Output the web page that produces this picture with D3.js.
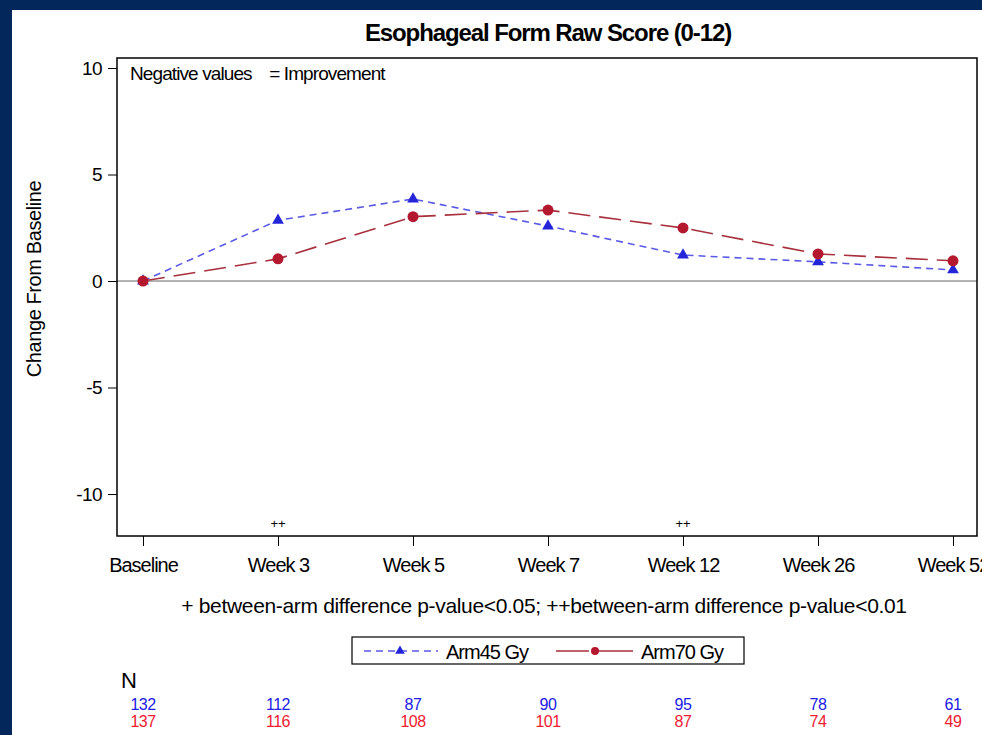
<!DOCTYPE html>
<html>
<head>
<meta charset="utf-8">
<script src="https://cdn.jsdelivr.net/npm/d3@7"></script>
<style>
  body { margin: 0; background: #03275b; }
  svg { display: block; }
  text { font-family: "Liberation Sans", Arial, sans-serif; }
</style>
</head>
<body>
<svg width="982" height="735"></svg>
<script>
const visits = ['Baseline', 'Week 3', 'Week 5', 'Week 7', 'Week 12', 'Week 26', 'Week 52'];
const arm45 = [0, 2.85, 3.85, 2.58, 1.22, 0.9, 0.52];
const arm70 = [0, 1.04, 3.02, 3.33, 2.49, 1.27, 0.95];
const n45 = [132, 112, 87, 90, 95, 78, 61];
const n70 = [137, 116, 108, 101, 87, 74, 49];
const sigMarks = ['', '++', '', '', '++', '', ''];
const yTicks = [-10, -5, 0, 5, 10];
const seriesNames = ['Arm45 Gy', 'Arm70 Gy'];

const svg = d3.select('svg');
const width = 982;
const height = 735;

// white panel on navy background
svg.append('rect')
    .attr('x', 12).attr('y', 10)
    .attr('width', width - 12).attr('height', height - 10)
    .attr('fill', '#fff');

const plotL = 117, plotR = 977, plotT = 58, plotB = 536;

const x = d3.scalePoint().domain(visits).range([143, 953]);
const y = d3.scaleLinear().domain([-11.97, 10.47]).range([plotB, plotT]);

const blue = '#2424d8';
const blueLine = '#5a5ae6';
const red = '#b3182e';
const redLine = '#a8303c';

// title
svg.append('text')
    .attr('x', 548).attr('y', 41)
    .attr('text-anchor', 'middle')
    .style('font-size', '24px')
    .style('font-weight', 'bold')
    .style('letter-spacing', '-1.1px')
    .text('Esophageal Form Raw Score (0-12)');

// zero reference line
svg.append('line')
    .attr('x1', plotL).attr('x2', plotR)
    .attr('y1', y(0)).attr('y2', y(0))
    .attr('stroke', '#666').attr('stroke-width', 1);

// y axis
const yAxis = svg.append('g')
    .attr('transform', `translate(${plotL},0)`)
    .call(d3.axisLeft(y).tickValues(yTicks).tickSize(9).tickPadding(6).tickFormat(d => String(d)));
yAxis.select('.domain').remove();
yAxis.selectAll('text')
    .style('font-size', '19px')
    .style('letter-spacing', '-0.6px')
    .style('font-family', '"Liberation Sans", Arial, sans-serif')
    .style('fill', '#000');
yAxis.selectAll('line').attr('stroke', '#000');

// x axis
const xAxis = svg.append('g')
    .attr('transform', `translate(0,${plotB})`)
    .call(d3.axisBottom(x).tickSize(10).tickPadding(12));
xAxis.select('.domain').remove();
xAxis.selectAll('text')
    .style('font-size', '20px')
    .style('letter-spacing', '-1px')
    .style('font-family', '"Liberation Sans", Arial, sans-serif')
    .style('fill', '#000');
xAxis.selectAll('line').attr('stroke', '#000');

// y title
svg.append('text')
    .attr('transform', `translate(41,${y(0) - 2}) rotate(-90)`)
    .attr('text-anchor', 'middle')
    .style('font-size', '20px')
    .style('letter-spacing', '-0.4px')
    .text('Change From Baseline');

// frame
svg.append('rect')
    .attr('x', plotL).attr('y', plotT)
    .attr('width', plotR - plotL).attr('height', plotB - plotT)
    .attr('fill', 'none').attr('stroke', '#000').attr('stroke-width', 1.5);

svg.append('text')
    .attr('x', 130).attr('y', 80)
    .style('font-size', '19px')
    .style('letter-spacing', '-0.9px')
    .style('white-space', 'pre')
    .text('Negative values    = Improvement');

// significance markers
svg.append('g').selectAll('text')
    .data(sigMarks)
    .enter().append('text')
    .attr('x', (d, i) => x(visits[i]))
    .attr('y', 528)
    .attr('text-anchor', 'middle')
    .style('font-size', '13px')
    .text(d => d);

const line = d3.line().x((d, i) => x(visits[i])).y(d => y(d));

svg.append('path')
    .datum(arm45)
    .attr('d', line)
    .attr('fill', 'none')
    .attr('stroke', blueLine)
    .attr('stroke-width', 1.6)
    .attr('stroke-dasharray', '7,5');

svg.append('path')
    .datum(arm70)
    .attr('d', line)
    .attr('fill', 'none')
    .attr('stroke', redLine)
    .attr('stroke-width', 1.6)
    .attr('stroke-dasharray', '22,9');

const tri = d3.symbol().type(d3.symbolTriangle).size(60);

svg.append('g').selectAll('path')
    .data(arm45)
    .enter().append('path')
    .attr('d', tri)
    .attr('transform', (d, i) => `translate(${x(visits[i])},${y(d)})`)
    .attr('fill', blue);

svg.append('g').selectAll('circle')
    .data(arm70)
    .enter().append('circle')
    .attr('cx', (d, i) => x(visits[i]))
    .attr('cy', d => y(d))
    .attr('r', 5.5)
    .attr('fill', red);

// footnote
svg.append('text')
    .attr('x', 544).attr('y', 613)
    .attr('text-anchor', 'middle')
    .style('font-size', '21px')
    .style('letter-spacing', '-0.33px')
    .text('+ between-arm difference p-value<0.05; ++between-arm difference p-value<0.01');

// legend
const lg = svg.append('g');
lg.append('rect')
    .attr('x', 352).attr('y', 637)
    .attr('width', 392).attr('height', 27)
    .attr('fill', '#fff').attr('stroke', '#000').attr('stroke-width', 1.2);
lg.append('line')
    .attr('x1', 364).attr('x2', 438).attr('y1', 651).attr('y2', 651)
    .attr('stroke', blueLine).attr('stroke-width', 1.5).attr('stroke-dasharray', '7,5');
lg.append('path')
    .attr('d', d3.symbol().type(d3.symbolTriangle).size(40))
    .attr('transform', 'translate(400,651)')
    .attr('fill', blue);
lg.append('text')
    .attr('x', 446).attr('y', 659)
    .style('font-size', '20px').style('letter-spacing', '-1px')
    .text(seriesNames[0]);
lg.append('line')
    .attr('x1', 556).attr('x2', 633).attr('y1', 651).attr('y2', 651)
    .attr('stroke', redLine).attr('stroke-width', 1.5)
    .attr('stroke-dasharray', '33,6,40');
lg.append('circle')
    .attr('cx', 595).attr('cy', 651).attr('r', 4)
    .attr('fill', red);
lg.append('text')
    .attr('x', 641).attr('y', 659)
    .style('font-size', '20px').style('letter-spacing', '-1px')
    .text(seriesNames[1]);

// N table
svg.append('text')
    .attr('x', 121).attr('y', 688)
    .style('font-size', '22px')
    .text('N');

svg.append('g').selectAll('text')
    .data(n45)
    .enter().append('text')
    .attr('x', (d, i) => x(visits[i]))
    .attr('y', 710)
    .attr('text-anchor', 'middle')
    .style('font-size', '16px')
    .style('letter-spacing', '-0.5px')
    .style('fill', '#2020e6')
    .text(d => d);

svg.append('g').selectAll('text')
    .data(n70)
    .enter().append('text')
    .attr('x', (d, i) => x(visits[i]))
    .attr('y', 727)
    .attr('text-anchor', 'middle')
    .style('font-size', '16px')
    .style('letter-spacing', '-0.5px')
    .style('fill', '#ee2030')
    .text(d => d);
</script>
</body>
</html>
